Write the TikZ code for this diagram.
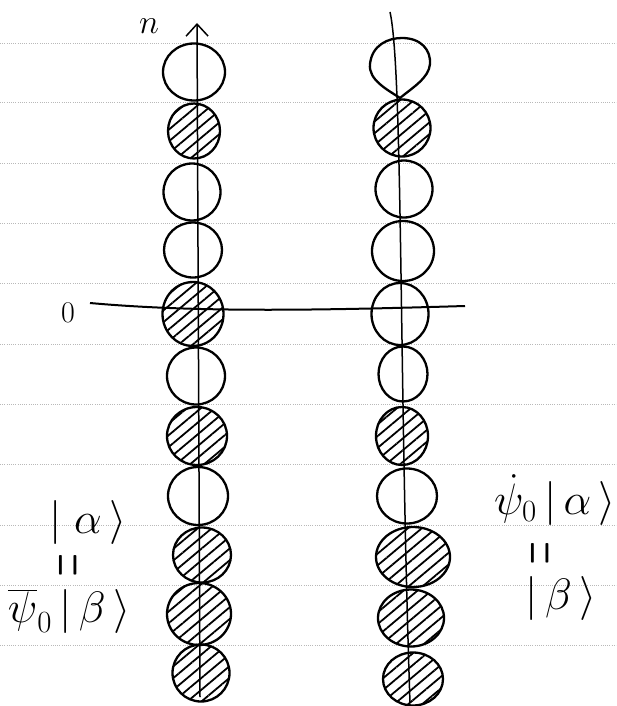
\RequirePackage{fix-cm}
\documentclass[tikz,border=0pt]{standalone}
\usepackage{graphicx}
\usetikzlibrary{shapes.geometric,patterns.meta,arrows.meta}
\newcommand{\vereq}{\scalebox{1.3}[3.4]{=}}
\begin{document}
\begin{tikzpicture}[x=1pt,y=1pt,
  ball/.style={ellipse,draw,line width=2.3pt,inner sep=0pt},
  full/.style={ball,pattern={Lines[angle=40,distance=9pt,line width=1.8pt]}},
  axisline/.style={line width=1.5pt},
  rule/.style={gray!55,line width=0.7pt,dash pattern=on 0.9pt off 1.3pt},
  lbl/.style={inner sep=0pt,font=\fontsize{44}{44}\selectfont},
  eqv/.style={inner sep=0pt,rotate=90,font=\fontsize{24}{24}\selectfont}
]
\useasboundingbox (0,0) rectangle (616,-706);
% ruled paper lines
\foreach \y in {43,102,163,223,283,344,404,464,525,585,645}
  \draw[rule] (0,-\y) -- (616,-\y);

% left column
\node[ball,minimum width=62pt,minimum height=57pt] (L1) at (194,-72) {};
\node[full,minimum width=52pt,minimum height=55pt] (L2) at (194,-131) {};
\node[ball,minimum width=57pt,minimum height=57pt] (L3) at (192,-192) {};
\node[ball,minimum width=58pt,minimum height=55pt] (L4) at (193,-250) {};
\node[full,minimum width=61pt,minimum height=64pt] (L5) at (193,-314) {};
\node[ball,minimum width=58pt,minimum height=57pt] (L6) at (196,-376) {};
\node[full,minimum width=60pt,minimum height=58pt] (L7) at (197,-436) {};
\node[ball,minimum width=60pt,minimum height=58pt] (L8) at (198,-496) {};
\node[full,minimum width=58pt,minimum height=55pt] (L9) at (202,-555) {};
\node[full,minimum width=64pt,minimum height=62pt] (L10) at (199,-614) {};
\node[full,minimum width=57pt,minimum height=57pt] (L11) at (201,-673) {};

% right column
\draw[line width=2.3pt] (400,-98) .. controls (388,-90) and (368,-80) .. (370,-64)
  .. controls (372,-45) and (388,-38) .. (402,-38)
  .. controls (421,-38) and (431,-50) .. (430,-64)
  .. controls (429,-78) and (412,-88) .. (400,-98) -- cycle;
\node[full,minimum width=57pt,minimum height=57pt] (R2) at (402,-128) {};
\node[ball,minimum width=57pt,minimum height=57pt] (R3) at (404,-189) {};
\node[ball,minimum width=62pt,minimum height=60pt] (R4) at (403,-251) {};
\node[ball,minimum width=57pt,minimum height=62pt] (R5) at (400,-314) {};
\node[ball,minimum width=49pt,minimum height=55pt] (R6) at (403,-374) {};
\node[full,minimum width=52pt,minimum height=58pt] (R7) at (402,-436) {};
\node[ball,minimum width=60pt,minimum height=55pt] (R8) at (407,-496) {};
\node[full,minimum width=74pt,minimum height=60pt] (R9) at (413,-557) {};
\node[full,minimum width=66pt,minimum height=57pt] (R10) at (411,-618) {};
\node[full,minimum width=60pt,minimum height=53pt] (R11) at (413,-679) {};

% axes
\coordinate (Ltop) at (197,-23);
\coordinate (Lbot) at (200,-697);
\draw[axisline,-{Straight Barb[length=12pt,width=22pt]}] (Lbot) -- (Ltop);
\coordinate (Rtop) at (390,-12);
\coordinate (Rbot) at (410,-703);
\draw[axisline] (Rtop) .. controls (403,-70) and (399,-380) .. (Rbot);
\coordinate (Hl) at (90,-303);
\coordinate (Hr) at (465,-306);
\draw[line width=2pt] (Hl) .. controls (200,-313) and (330,-310) .. (Hr);

% labels
\node[inner sep=0pt,font=\fontsize{34}{34}\selectfont] (n) at (149,-26) {$n$};
\node[inner sep=0pt,font=\fontsize{30}{30}\selectfont] (zero) at (68,-313) {0};
\node[lbl] (la) at (88,-522) {$|\;\alpha\,\rangle$};
\node[eqv] (le) at (74,-565) {\vereq};
\node[lbl] (lb) at (69,-611) {$\overline{\psi}_0\,|\,\beta\,\rangle$};
\node[lbl] (ra) at (555,-500) {$\dot{\psi}_0\,|\,\alpha\,\rangle$};
\node[eqv] (re) at (546,-553) {\vereq};
\node[lbl] (rb) at (561,-598) {$|\,\beta\,\rangle$};
\end{tikzpicture}
\end{document}
